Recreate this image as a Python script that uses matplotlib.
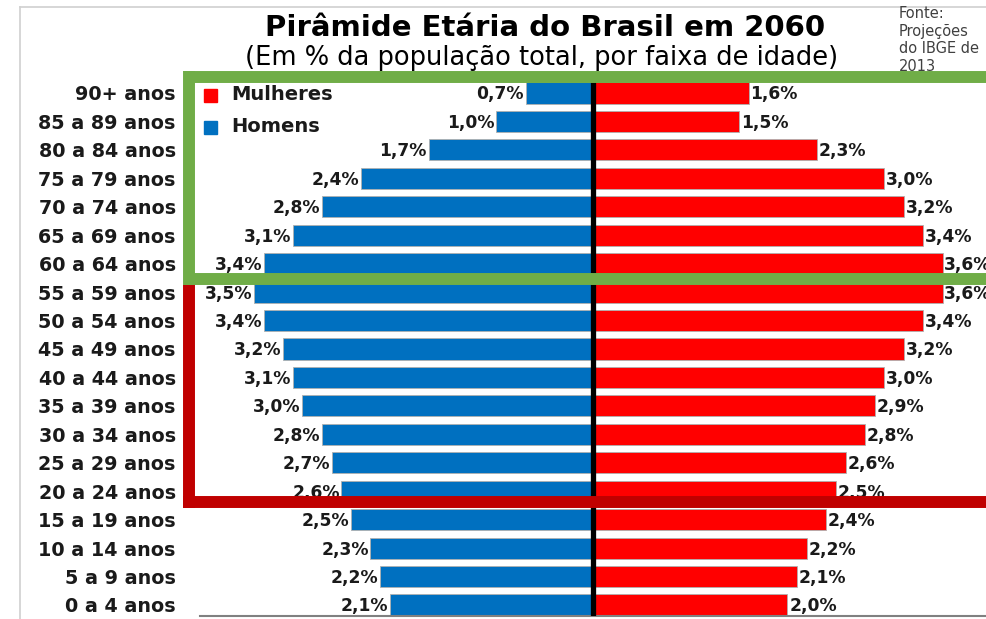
import matplotlib
matplotlib.use("Agg")
import matplotlib.pyplot as plt
from matplotlib.patches import Rectangle
from matplotlib.lines import Line2D

W, H = 987, 619
FONT = ["DejaVu Sans"]
plt.rcParams["font.family"] = FONT

age_groups = ["0 a 4 anos", "5 a 9 anos", "10 a 14 anos", "15 a 19 anos", "20 a 24 anos",
              "25 a 29 anos", "30 a 34 anos", "35 a 39 anos", "40 a 44 anos", "45 a 49 anos",
              "50 a 54 anos", "55 a 59 anos", "60 a 64 anos", "65 a 69 anos", "70 a 74 anos",
              "75 a 79 anos", "80 a 84 anos", "85 a 89 anos", "90+ anos"]
homens = [2.1, 2.2, 2.3, 2.5, 2.6, 2.7, 2.8, 3.0, 3.1, 3.2, 3.4, 3.5, 3.4, 3.1, 2.8, 2.4, 1.7, 1.0, 0.7]
mulheres = [2.0, 2.1, 2.2, 2.4, 2.5, 2.6, 2.8, 2.9, 3.0, 3.2, 3.4, 3.6, 3.6, 3.4, 3.2, 3.0, 2.3, 1.5, 1.6]

title = "Pirâmide Etária do Brasil em 2060"
subtitle = "(Em % da população total, por faixa de idade)"
source = "Fonte:\nProjeções\ndo IBGE de\n2013"

BLUE = "#0070C0"
RED = "#FF0000"
GREEN = "#70AD47"
DARKRED = "#C00000"

fig = plt.figure(figsize=(W / 100, H / 100), dpi=100)

def fx(px):
    return px / W

def fy(py):
    return 1 - py / H

# axes placement in pixels
ax_left, ax_right, ax_top, ax_bottom = 200, 987, 78, 616
ax = fig.add_axes([fx(ax_left), fy(ax_bottom), fx(ax_right - ax_left), (ax_bottom - ax_top) / H])

ypos = list(range(len(age_groups)))
ax.barh(ypos, [-v for v in homens], height=0.74, color=BLUE, edgecolor="#B0B0B0", linewidth=0.6, zorder=2)
ax.barh(ypos, mulheres, height=0.74, color=RED, edgecolor="#B0B0B0", linewidth=0.6, zorder=2)

px_per_unit = 97.0
center_px = 593.5
ax.set_xlim(-(center_px - ax_left) / px_per_unit, (ax_right - center_px) / px_per_unit)
row_px = (605 - 93) / 18
ax.set_ylim(-(ax_bottom - 605) / row_px, 18 + (93 - ax_top) / row_px)

ax.axvline(0, color="black", linewidth=3.8, zorder=3)

for i, (h, m) in enumerate(zip(homens, mulheres)):
    ax.annotate(f"{h:.1f}%".replace(".", ","), (-h, i), xytext=(-1.2, -1), textcoords="offset points",
                ha="right", va="center", fontsize=12.3, fontweight="bold", color="#1a1a1a", zorder=4)
    ax.annotate(f"{m:.1f}%".replace(".", ","), (m, i), xytext=(1.2, -1), textcoords="offset points",
                ha="left", va="center", fontsize=12.3, fontweight="bold", color="#1a1a1a", zorder=4)

ax.set_yticks(ypos)
ax.set_yticklabels(age_groups, fontsize=13.8, fontweight="bold", color="#1a1a1a")
ax.tick_params(axis="y", length=0, pad=17.5)
ax.set_xticks([])
for s in ["top", "right", "left"]:
    ax.spines[s].set_visible(False)
ax.spines["bottom"].set_color("#808080")
ax.spines["bottom"].set_linewidth(1.5)

# slide frame lines
fig.add_artist(Line2D([fx(20), fx(20)], [fy(7), fy(619)], color="#D0D0D0", linewidth=1.2))
fig.add_artist(Line2D([fx(20), fx(987)], [fy(7), fy(7)], color="#D0D0D0", linewidth=1.2))

# titles
fig.text(fx(545), fy(28), title, ha="center", va="center", fontsize=21, fontweight="bold", color="black")
fig.text(fx(542), fy(58), subtitle, ha="center", va="center", fontsize=18.5, color="black")
fig.text(fx(899), fy(6), source, ha="left", va="top", fontsize=10.5, color="#404040", linespacing=1.22)

# legend
fig.add_artist(Rectangle((fx(204), fy(102)), fx(13), 13 / H, color=RED, zorder=5))
fig.add_artist(Rectangle((fx(204), fy(134)), fx(13), 13 / H, color=BLUE, zorder=5))
fig.text(fx(231), fy(95), "Mulheres", ha="left", va="center", fontsize=14, fontweight="bold", color="#1a1a1a")
fig.text(fx(231), fy(127), "Homens", ha="left", va="center", fontsize=14, fontweight="bold", color="#1a1a1a")

# highlight boxes (thick outlines)
lw = 8.6
# green box
fig.add_artist(Line2D([fx(189), fx(1000)], [fy(76.5), fy(76.5)], color=GREEN, linewidth=lw, zorder=10, solid_capstyle="butt"))
fig.add_artist(Line2D([fx(189), fx(1000)], [fy(278.5), fy(278.5)], color=GREEN, linewidth=lw, zorder=10, solid_capstyle="butt"))
fig.add_artist(Line2D([fx(189), fx(189)], [fy(70.5), fy(284.5)], color=GREEN, linewidth=lw, zorder=10, solid_capstyle="butt"))
# red box
fig.add_artist(Line2D([fx(189), fx(189)], [fy(284.5), fy(508)], color=DARKRED, linewidth=lw, zorder=9, solid_capstyle="butt"))
fig.add_artist(Line2D([fx(183), fx(1000)], [fy(501.5), fy(501.5)], color=DARKRED, linewidth=lw, zorder=9, solid_capstyle="butt"))

fig.savefig("out.png", dpi=100, facecolor="white")
